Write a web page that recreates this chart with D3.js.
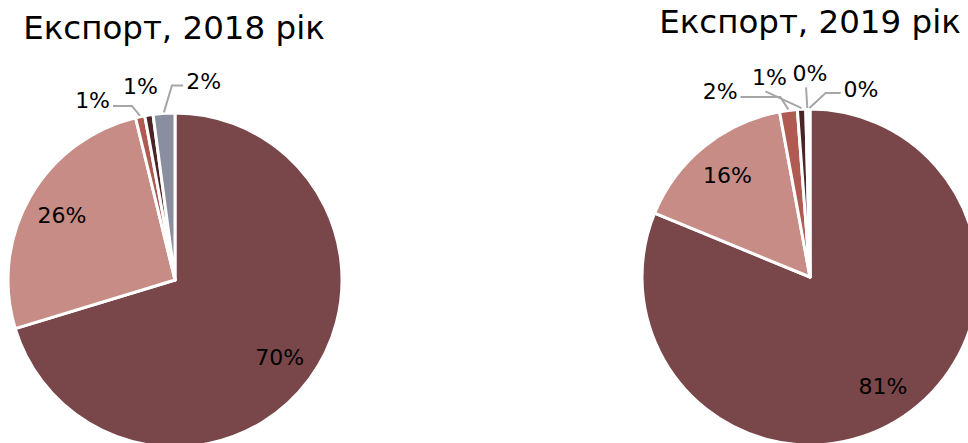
<!DOCTYPE html>
<html><head><meta charset="utf-8">
<script src="https://cdn.jsdelivr.net/npm/d3@7"></script>
<style>
html,body{margin:0;padding:0;background:#fff;overflow:hidden}
text{font-family:"DejaVu Sans",sans-serif;fill:#000}
</style></head>
<body>
<svg id="chart" width="968" height="443"></svg>
<script>
// ---- data ----
const categories = ["Категорія 1","Категорія 2","Категорія 3","Категорія 4","Категорія 5","Категорія 6"];
const titles = ["Експорт, 2018 рік","Експорт, 2019 рік"];
const values2018 = [70.3, 25.9, 0.9, 0.8, 2.1, 0];
const values2019 = [81.2, 15.9, 1.7, 0.8, 0.3, 0.1];
const colors = ["#79474a","#c78c85","#b05b51","#4b2427","#8a8fa0","#d9c6c3"];

// ---- layout (not data) ----
const charts = [
  {title: titles[0], values: values2018, cx: 175, cy: 280, r: 167, titleX: 174, titleY: 39,
   outside: {2: {a: 335.4, d: 198, side: "right"}, 3: {a: 349.9, d: 196.6, side: null}, 4: {a: 8.2, d: 200.5, side: "left"}}},
  {title: titles[1], values: values2019, cx: 810, cy: 277, r: 168, titleX: 810, titleY: 33,
   outside: {2: {a: 334.2, d: 206.6, side: "right"}, 3: {a: 348.5, d: 203.6, side: "bottom"}, 4: {a: 0, d: 203.5, side: "bottom"}, 5: {a: 15.2, d: 194.8, side: "left"}}}
];

const svg = d3.select("#chart");
const color = d3.scaleOrdinal().domain(categories).range(colors);
const pie = d3.pie().sort(null).value(d => d.v);
const fmt = v => Math.round(v) + "%";
const rad = a => a * Math.PI / 180;
const polar = (a, d) => [d * Math.sin(rad(a)), -d * Math.cos(rad(a))];

charts.forEach(ch => {
  const data = categories.map((c, i) => ({c, v: ch.values[i], i}));
  const arcs = pie(data);
  const arc = d3.arc().innerRadius(0).outerRadius(ch.r);
  const labelArc = d3.arc().innerRadius(ch.r * 0.78).outerRadius(ch.r * 0.78);

  svg.append("text").attr("x", ch.titleX).attr("y", ch.titleY)
    .attr("text-anchor", "middle").style("font-size", "32.5px").text(ch.title);

  const g = svg.append("g").attr("transform", `translate(${ch.cx},${ch.cy})`);
  g.selectAll("path.slice").data(arcs.filter(d => d.data.v > 0)).join("path")
    .attr("class", "slice").attr("d", arc)
    .attr("fill", d => color(d.data.c))
    .attr("stroke", "#fff").attr("stroke-width", 3).attr("stroke-linejoin", "round");

  arcs.forEach(d => {
    if (d.data.v <= 0) return;
    const o = ch.outside[d.index];
    if (!o) {
      const [x, y] = labelArc.centroid(d);
      g.append("text").attr("x", x).attr("y", y).attr("dy", "0.36em")
        .attr("text-anchor", "middle").style("font-size", "22px").text(fmt(d.data.v));
      return;
    }
    const [lx, ly] = polar(o.a, o.d);
    const t = g.append("text").attr("x", lx).attr("y", ly).attr("dy", "0.36em")
      .attr("text-anchor", "middle").style("font-size", "22px").text(fmt(d.data.v));
    if (!o.side) return;
    const bb = t.node().getBBox();
    const mid = (d.startAngle + d.endAngle) / 2 * 180 / Math.PI;
    const [ax, ay] = polar(mid, ch.r + 1);
    let pts;
    if (o.side === "right") {
      const sx = bb.x + bb.width + 3, sy = ly + 6;
      pts = [[sx, sy], [ax - 8, sy], [ax, ay]];
    } else if (o.side === "left") {
      const sx = bb.x - 3, sy = ly + 4;
      pts = [[sx, sy], [Math.max(ax + 8, sx - 15), sy], [ax, ay]];
    } else {
      pts = [[lx - 4, bb.y + bb.height + 1], [ax, ay]];
    }
    g.append("path").attr("d", d3.line()(pts))
      .attr("fill", "none").attr("stroke", "#a6a6a6").attr("stroke-width", 2);
  });
});
</script>
</body></html>
